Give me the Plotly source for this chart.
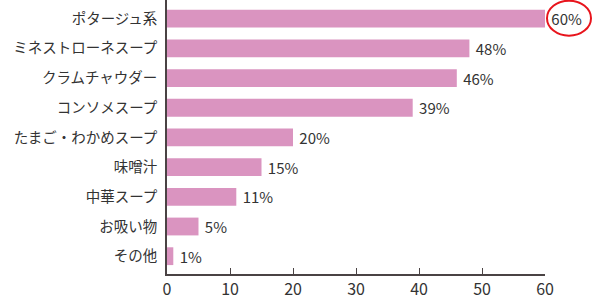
import plotly.graph_objects as go

categories = ["ポタージュ系", "ミネストローネスープ", "クラムチャウダー", "コンソメスープ",
              "たまご・わかめスープ", "味噌汁", "中華スープ", "お吸い物", "その他"]
values = [60, 48, 46, 39, 20, 15, 11, 5, 1]
labels = [f"{v}%" for v in values]
x_ticks = [0, 10, 20, 30, 40, 50, 60]
x_max = 60

FONT = "Noto Sans CJK JP"
BAR = "#da94c0"
AX = "#4a4344"

fig = go.Figure(go.Bar(
    x=values, y=categories, orientation="h",
    marker=dict(color=BAR, line=dict(width=0)),
    width=0.6,
    text=labels, texttemplate="\u00a0%{text}",
    textposition="outside", constraintext="none",
    textfont=dict(family=FONT, size=15, color="#333333"),
    cliponaxis=False,
))

max_i = values.index(max(values))
fig.add_shape(type="circle", xref="paper", yref="y",
              xsizemode="pixel", ysizemode="pixel",
              xanchor=values[max_i] / x_max, yanchor=categories[max_i],
              x0=2, x1=46, y0=-17, y1=18,
              line=dict(color="#e8141c", width=2))

fig.update_layout(
    width=600, height=300,
    margin=dict(l=167, r=55, t=0, b=23),
    paper_bgcolor="white", plot_bgcolor="white",
    showlegend=False,
    font=dict(family=FONT, color="#333333"),
    xaxis=dict(range=[0, x_max], tickvals=x_ticks, ticks="inside", ticklen=6,
               tickcolor=AX, showline=True, linecolor=AX, linewidth=1.5,
               showgrid=False, zeroline=False,
               tickfont=dict(family=FONT, size=16, color="#333333")),
    yaxis=dict(autorange=False, range=[8.6, -0.63], categoryorder="array",
               categoryarray=categories, showline=True, linecolor=AX, linewidth=1.5,
               showgrid=False, zeroline=False, ticks="", ticklabelstandoff=5,
               tickfont=dict(family=FONT, size=14.5, color="#333333")),
)

fig.write_html("out.html")
